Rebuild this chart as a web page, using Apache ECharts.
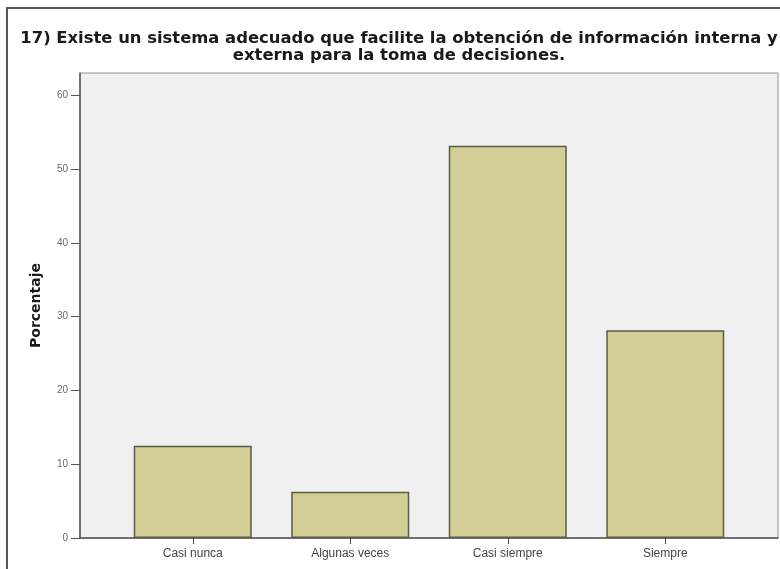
<!DOCTYPE html>
<html>
<head>
<meta charset="utf-8">
<script src="https://cdn.jsdelivr.net/npm/echarts@6/dist/echarts.min.js"></script>
<style>
html,body{margin:0;padding:0;background:#fff;}
#chart{width:780px;height:569px;}
</style>
</head>
<body>
<div id="chart"></div>
<script>
const categories = ['Casi nunca', 'Algunas veces', 'Casi siempre', 'Siempre'];
const percentages = [12.5, 6.25, 53.13, 28.13];
const yTickValues = [0, 10, 20, 30, 40, 50, 60];
const titleText = '17) Existe un sistema adecuado que facilite la obtención de información interna y\nexterna para la toma de decisiones.';
const yName = 'Porcentaje';

const chart = echarts.init(document.getElementById('chart'), null, {renderer: 'canvas'});
const font = '"Liberation Sans", Arial, sans-serif';
const wideFont = '"DejaVu Sans", Verdana, sans-serif';
const yMax = 63;

chart.setOption({
  animation: false,
  backgroundColor: '#ffffff',
  textStyle: {fontFamily: font},
  title: {
    text: titleText,
    left: 394,
    top: 25,
    textAlign: 'center',
    textStyle: {fontSize: 16.4, fontWeight: 'bold', color: '#1a1a1a', lineHeight: 17, fontFamily: wideFont}
  },
  graphic: [{
    type: 'rect',
    shape: {x: 7, y: 8, width: 800, height: 600},
    style: {fill: 'none', stroke: '#555', lineWidth: 2},
    silent: true, z: -10
  }],
  grid: [
    {left: 80, right: 2, top: 73, bottom: 31, show: true, backgroundColor: '#f0f0f0', borderColor: '#8f8f8f', borderWidth: 1, containLabel: false},
    {left: 114, right: 36, top: 73, bottom: 31, containLabel: false}
  ],
  xAxis: [
    {
      gridIndex: 0, type: 'category', data: categories,
      axisLine: {show: true, lineStyle: {color: '#555', width: 1.5}},
      axisTick: {show: false}, axisLabel: {show: false}, splitLine: {show: false}
    },
    {
      gridIndex: 1, type: 'category', data: categories,
      axisLine: {show: false},
      axisTick: {show: true, alignWithLabel: true, length: 6, lineStyle: {color: '#444'}},
      axisLabel: {color: '#444', fontSize: 12, margin: 10, fontFamily: font},
      splitLine: {show: false}
    }
  ],
  yAxis: [
    {
      gridIndex: 0, type: 'value', min: 0, max: yMax,
      name: yName, nameLocation: 'middle', nameGap: 37, nameRotate: 90,
      nameTextStyle: {fontSize: 14, fontWeight: 'bold', color: '#1a1a1a', fontFamily: wideFont},
      axisLine: {show: true, lineStyle: {color: '#555', width: 1.5}},
      axisTick: {show: true, length: 9, customValues: yTickValues, lineStyle: {color: '#555'}},
      axisLabel: {color: '#6a6a6a', fontSize: 10, margin: 12, customValues: yTickValues, fontFamily: font},
      splitLine: {show: false}
    },
    {
      gridIndex: 1, type: 'value', min: 0, max: yMax, show: false,
      splitLine: {show: false}
    }
  ],
  series: [{
    type: 'bar',
    xAxisIndex: 1, yAxisIndex: 1,
    data: percentages,
    barWidth: 118,
    itemStyle: {color: '#d3cd96', borderColor: '#5e5b45', borderWidth: 1.5}
  }]
});
</script>
</body>
</html>
